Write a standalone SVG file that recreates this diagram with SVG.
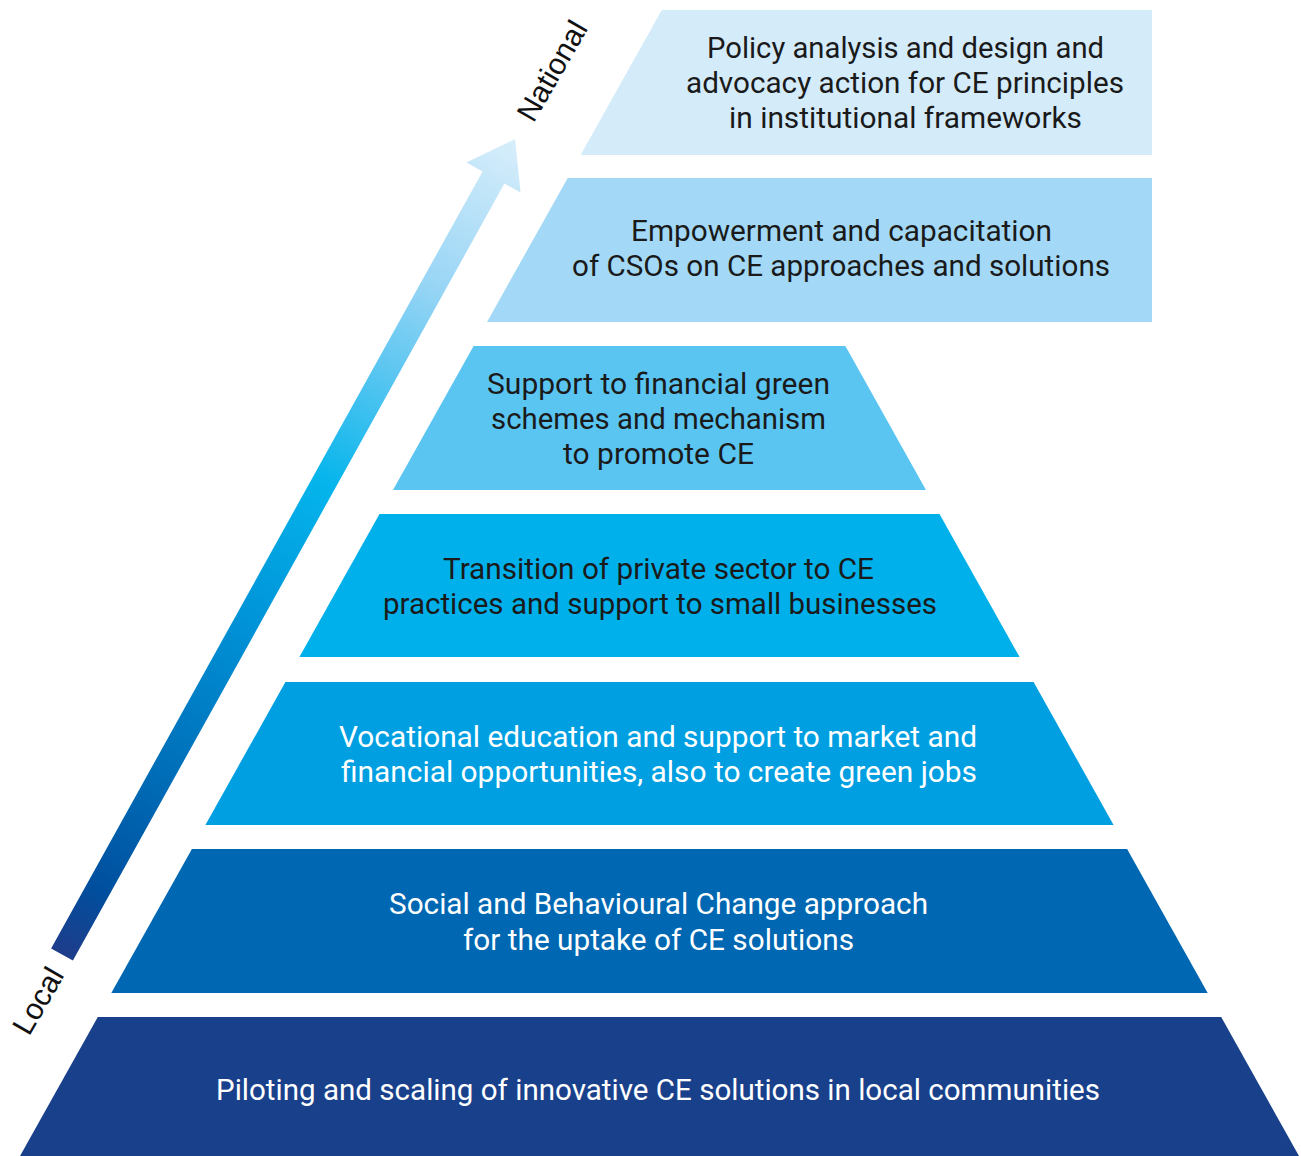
<svg xmlns="http://www.w3.org/2000/svg" width="1301" height="1156" viewBox="0 0 1301 1156">
<defs>
<linearGradient id="arrowGrad" gradientUnits="userSpaceOnUse" x1="62" y1="955" x2="515" y2="139">
<stop offset="0" stop-color="#1e3c8a"/>
<stop offset="0.08" stop-color="#004f9e"/>
<stop offset="0.2" stop-color="#0069b4"/>
<stop offset="0.42" stop-color="#0095d9"/>
<stop offset="0.58" stop-color="#05b5ec"/>
<stop offset="0.7" stop-color="#52c4f0"/>
<stop offset="0.82" stop-color="#98d5f5"/>
<stop offset="1" stop-color="#d8eefb"/>
</linearGradient>
<style>
.lbl{font-family:Roboto,"Liberation Sans",sans-serif;font-size:29px;text-anchor:middle}
.w{fill:#ffffff}
.k{fill:#1a1a1a}
.axis{font-family:"Liberation Sans",Arial,sans-serif;font-size:30px;fill:#111111;text-anchor:middle}
</style>
</defs>
<rect width="1301" height="1156" fill="#ffffff"/>

<g id="arrow">
<polygon points="51.1,948.4 482.6,171.4 466.4,162.5 515,139 520.6,192.5 504.4,183.6 72.9,960.6" fill="url(#arrowGrad)"/>
</g>
<g id="label-local"><text class="axis" transform="translate(47,1006) rotate(-60)">Local</text></g>
<g id="label-national"><text class="axis" transform="translate(561,76) rotate(-60)">National</text></g>

<g id="level1">
<polygon points="97.8,1017 1221.2,1017 1299,1156 20,1156" fill="#19418b"/>
<text class="lbl w" x="658" y="1100" textLength="884" lengthAdjust="spacingAndGlyphs">Piloting and scaling of innovative CE solutions in local communities</text>
</g>
<g id="level2">
<polygon points="191.9,849 1127.1,849 1207.7,993 111.3,993" fill="#0067b2"/>
<text class="lbl w" x="658.5" y="914" textLength="539" lengthAdjust="spacingAndGlyphs">Social and Behavioural Change approach</text>
<text class="lbl w" x="658.5" y="950" textLength="391" lengthAdjust="spacingAndGlyphs">for the uptake of CE solutions</text>
</g>
<g id="level3">
<polygon points="285.4,682 1033.6,682 1113.6,825 205.4,825" fill="#009fe2"/>
<text class="lbl w" x="658" y="747" textLength="638" lengthAdjust="spacingAndGlyphs">Vocational education and support to market and</text>
<text class="lbl w" x="659" y="782" textLength="636" lengthAdjust="spacingAndGlyphs">financial opportunities, also to create green jobs</text>
</g>
<g id="level4">
<polygon points="379.5,514 939.5,514 1019.6,657 299.4,657" fill="#00b0eb"/>
<text class="lbl k" x="658.5" y="579" textLength="431" lengthAdjust="spacingAndGlyphs">Transition of private sector to CE</text>
<text class="lbl k" x="660" y="614" textLength="554" lengthAdjust="spacingAndGlyphs">practices and support to small businesses</text>
</g>
<g id="level5">
<polygon points="473.6,346 845.4,346 926,490 393,490" fill="#5bc5f2"/>
<text class="lbl k" x="658.5" y="394" textLength="343" lengthAdjust="spacingAndGlyphs">Support to financial green</text>
<text class="lbl k" x="658.5" y="429" textLength="335" lengthAdjust="spacingAndGlyphs">schemes and mechanism</text>
<text class="lbl k" x="658.5" y="464" textLength="191" lengthAdjust="spacingAndGlyphs">to promote CE</text>
</g>
<g id="level6">
<polygon points="567.7,178 1152,178 1152,322 487,322" fill="#a3d9f6"/>
<text class="lbl k" x="841.5" y="241" textLength="421" lengthAdjust="spacingAndGlyphs">Empowerment and capacitation</text>
<text class="lbl k" x="841" y="276" textLength="538" lengthAdjust="spacingAndGlyphs">of CSOs on CE approaches and solutions</text>
</g>
<g id="level7">
<polygon points="661.8,10 1152,10 1152,155 580.6,155" fill="#d4ebfa"/>
<text class="lbl k" x="905.5" y="58" textLength="397" lengthAdjust="spacingAndGlyphs">Policy analysis and design and</text>
<text class="lbl k" x="905" y="93" textLength="438" lengthAdjust="spacingAndGlyphs">advocacy action for CE principles</text>
<text class="lbl k" x="905.5" y="128" textLength="353" lengthAdjust="spacingAndGlyphs">in institutional frameworks</text>
</g>
<g id="connectors"></g>
</svg>
